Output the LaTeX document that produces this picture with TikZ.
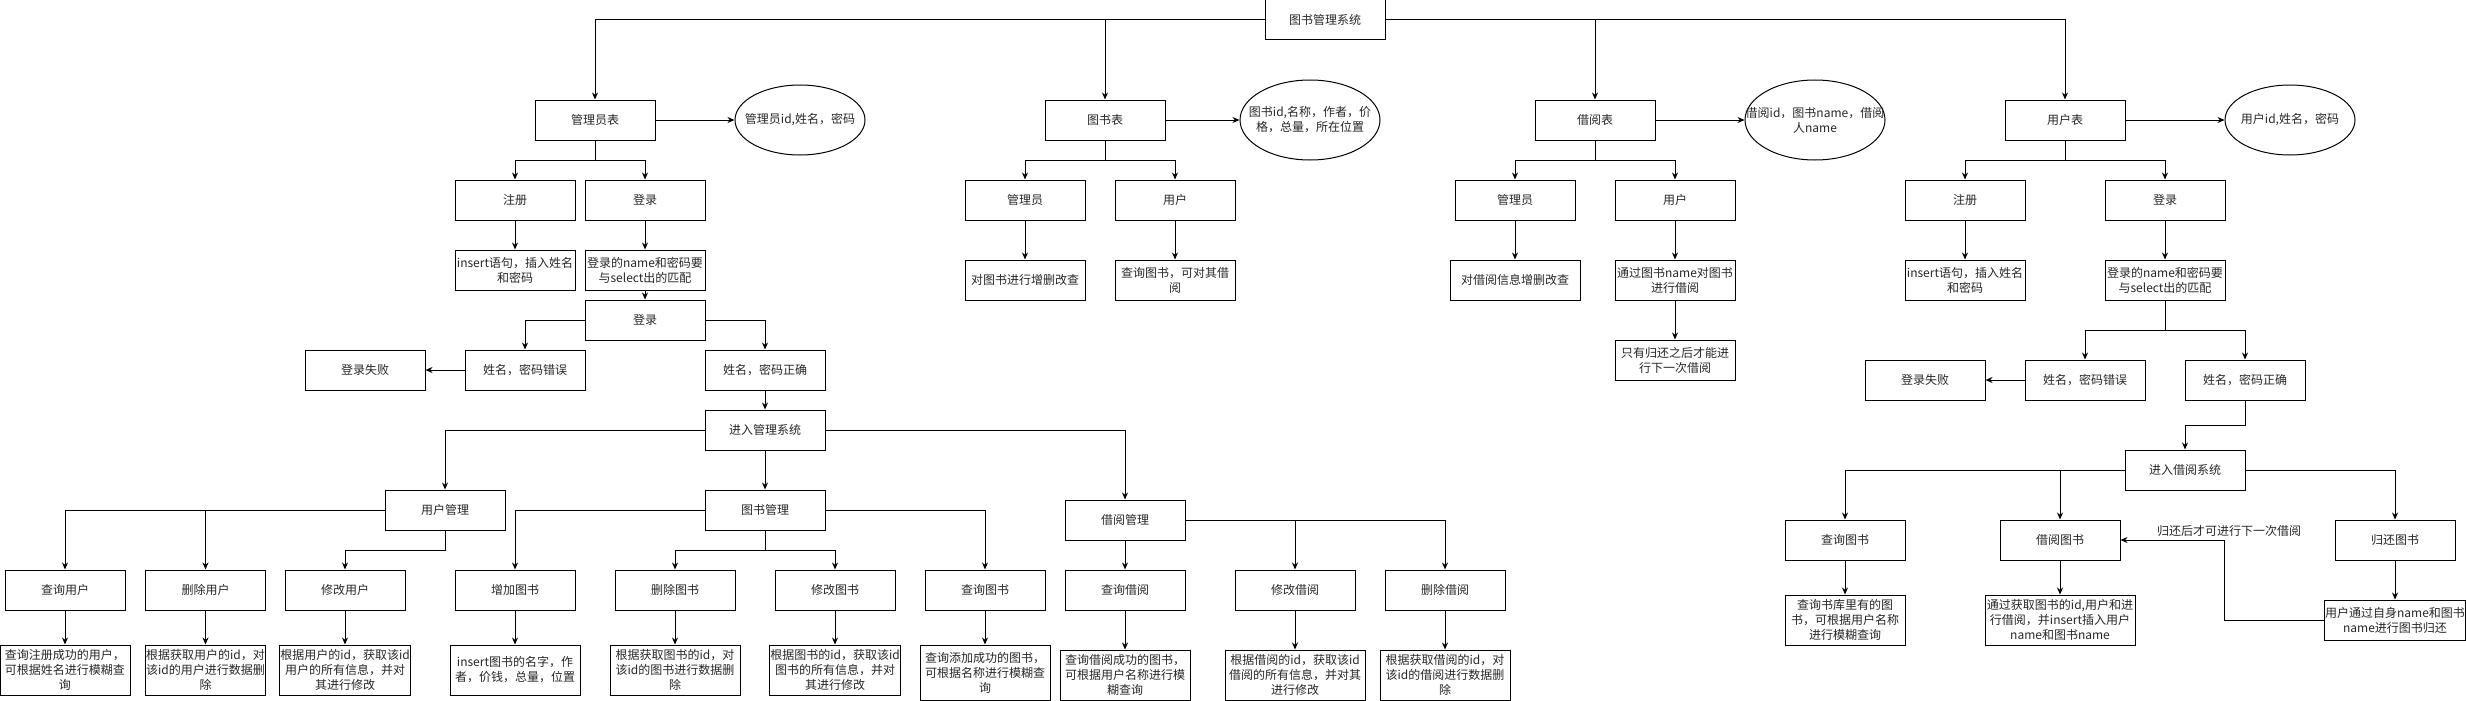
\documentclass[tikz,border=0pt]{standalone}
\usepackage{fontspec}
\setmainfont{Noto Sans CJK SC}
\usepackage{tikz}
\usetikzlibrary{arrows.meta}
\usetikzlibrary{shapes,positioning}
\colorlet{background}{white}
\colorlet{penColor}{black}
\colorlet{textColor}{black!85}

\begin{document}
\begin{tikzpicture}[x=1pt,y=-1pt,line width=1pt,
  >={Stealth[length=7pt,width=6pt]},
  box/.style={draw=penColor,rectangle,minimum width=120pt,minimum height=40pt,
    inner sep=0.5pt,align=center,text=textColor,font=\fontsize{12}{15}\selectfont},
  wbox/.style={box,minimum width=130pt,minimum height=50pt},
  attr/.style={draw=penColor,ellipse,minimum width=130pt,minimum height=70pt},
  link/.style={penColor,->}]

  \useasboundingbox (0,0) rectangle (2466,701);

  % top level
  \node [box] (root) at (1325,20) {图书管理系统};
  \node [box] (adminT) at (595,120) {管理员表};
  \node [box] (bookT) at (1105,120) {图书表};
  \node [box] (borrowT) at (1595,120) {借阅表};
  \node [box] (userT) at (2065,120) {用户表};

  \node [attr,label={[align=center,text=textColor,font=\fontsize{12}{15}\selectfont]center:{管理员id,姓名，密码}}] (adminE) at (800,120) {};
  \node [attr,minimum width=140pt,minimum height=80pt,label={[align=center,text=textColor,font=\fontsize{12}{15}\selectfont]center:{图书id,名称，作者，价\\格，总量，所在位置}}] (bookE) at (1310,120) {};
  \node [attr,minimum width=140pt,minimum height=80pt,label={[align=center,text=textColor,font=\fontsize{12}{15}\selectfont]center:{借阅id，图书name，借阅\\人name}}] (borrowE) at (1815,120) {};
  \node [attr,label={[align=center,text=textColor,font=\fontsize{12}{15}\selectfont]center:{用户id,姓名，密码}}] (userE) at (2290,120) {};

  \draw [link] (root) -| (adminT);
  \draw [link] (root) -| (bookT);
  \draw [link] (root) -| (borrowT);
  \draw [link] (root) -| (userT);
  \draw [link] (adminT) -- (adminE);
  \draw [link] (bookT) -- (bookE);
  \draw [link] (borrowT) -- (borrowE);
  \draw [link] (userT) -- (userE);

  % admin table
  \node [box] (aReg) at (515,200) {注册};
  \node [box] (aLog) at (645,200) {登录};
  \node [box] (aRegD) at (515,270) {insert语句，插入姓名\\和密码};
  \node [box] (aLogD) at (645,270) {登录的name和密码要\\与select出的匹配};
  \node [box] (aLogin) at (645,320) {登录};
  \node [box] (aWrong) at (525,370) {姓名，密码错误};
  \node [box] (aFail) at (365,370) {登录失败};
  \node [box] (aRight) at (765,370) {姓名，密码正确};
  \node [box] (aSys) at (765,430) {进入管理系统};

  \draw [link] (adminT.south) -- ++(0,20) -| (aReg);
  \draw [link] (adminT.south) -- ++(0,20) -| (aLog);
  \draw [link] (aReg) -- (aRegD);
  \draw [link] (aLog) -- (aLogD);
  \draw [link] (aLogD) -- (aLogin);
  \draw [link] (aLogin) -| (aWrong);
  \draw [link] (aLogin) -| (aRight);
  \draw [link] (aWrong) -- (aFail);
  \draw [link] (aRight) -- (aSys);

  \node [box] (uMgr) at (445,510) {用户管理};
  \node [box] (bMgr) at (765,510) {图书管理};
  \node [box] (rMgr) at (1125,520) {借阅管理};
  \draw [link] (aSys) -| (uMgr);
  \draw [link] (aSys) -- (bMgr);
  \draw [link] (aSys) -| (rMgr);

  \node [box] (uQ) at (65,590) {查询用户};
  \node [box] (uDel) at (205.5,590) {删除用户};
  \node [box] (uMod) at (345,590) {修改用户};
  \node [box] (bAdd) at (515,590) {增加图书};
  \node [box] (bDel) at (675,590) {删除图书};
  \node [box] (bMod) at (835,590) {修改图书};
  \node [box] (bQ) at (985,590) {查询图书};
  \node [box] (rQ) at (1125,590) {查询借阅};
  \node [box] (rMod) at (1295,590) {修改借阅};
  \node [box] (rDel) at (1445,590) {删除借阅};

  \node [wbox] (uQD) at (65,670) {查询注册成功的用户，\\可根据姓名进行模糊查\\询};
  \node [wbox,minimum width=120pt] (uDelD) at (205.5,670) {根据获取用户的id，对\\该id的用户进行数据删\\除};
  \node [wbox] (uModD) at (345,670) {根据用户的id，获取该id\\用户的所有信息，并对\\其进行修改};
  \node [wbox] (bAddD) at (515,670) {insert图书的名字，作\\者，价钱，总量，位置};
  \node [wbox] (bDelD) at (675,670) {根据获取图书的id，对\\该id的图书进行数据删\\除};
  \node [wbox] (bModD) at (835,670) {根据图书的id，获取该id\\图书的所有信息，并对\\其进行修改};
  \node [wbox,minimum height=55pt] (bQD) at (985,672.5) {查询添加成功的图书，\\可根据名称进行模糊查\\询};
  \node [wbox] (rQD) at (1125,675) {查询借阅成功的图书，\\可根据用户名称进行模\\糊查询};
  \node [wbox,minimum width=140pt] (rModD) at (1295,675) {根据借阅的id，获取该id\\借阅的所有信息，并对其\\进行修改};
  \node [wbox] (rDelD) at (1445,675) {根据获取借阅的id，对\\该id的借阅进行数据删\\除};

  \draw [link] (uMgr) -| (uQ);
  \draw [link] (uMgr) -| (uDel);
  \draw [link] (uMgr.south) -- ++(0,20) -| (uMod);
  \draw [link] (bMgr) -| (bAdd);
  \draw [link] (bMgr.south) -- ++(0,20) -| (bDel);
  \draw [link] (bMgr.south) -- ++(0,20) -| (bMod);
  \draw [link] (bMgr) -| (bQ);
  \draw [link] (rMgr) -- (rQ);
  \draw [link] (rMgr) -| (rMod);
  \draw [link] (rMgr) -| (rDel);

  \draw [link] (uQ) -- (uQD);
  \draw [link] (uDel) -- (uDelD);
  \draw [link] (uMod) -- (uModD);
  \draw [link] (bAdd) -- (bAddD);
  \draw [link] (bDel) -- (bDelD);
  \draw [link] (bMod) -- (bModD);
  \draw [link] (bQ) -- (bQD);
  \draw [link] (rQ) -- (rQD);
  \draw [link] (rMod) -- (rModD);
  \draw [link] (rDel) -- (rDelD);

  % book table
  \node [box] (bkAdm) at (1025,200) {管理员};
  \node [box] (bkUsr) at (1175,200) {用户};
  \node [box] (bkAdmD) at (1025,280) {对图书进行增删改查};
  \node [box] (bkUsrD) at (1175,280) {查询图书，可对其借\\阅};
  \draw [link] (bookT.south) -- ++(0,20) -| (bkAdm);
  \draw [link] (bookT.south) -- ++(0,20) -| (bkUsr);
  \draw [link] (bkAdm) -- (bkAdmD);
  \draw [link] (bkUsr) -- (bkUsrD);

  % borrow table
  \node [box] (brAdm) at (1515,200) {管理员};
  \node [box] (brUsr) at (1675,200) {用户};
  \node [box,minimum width=130pt] (brAdmD) at (1515,280) {对借阅信息增删改查};
  \node [box] (brUsrD) at (1675,280) {通过图书name对图书\\进行借阅};
  \node [box] (brOnce) at (1675,360) {只有归还之后才能进\\行下一次借阅};
  \draw [link] (borrowT.south) -- ++(0,20) -| (brAdm);
  \draw [link] (borrowT.south) -- ++(0,20) -| (brUsr);
  \draw [link] (brAdm) -- (brAdmD);
  \draw [link] (brUsr) -- (brUsrD);
  \draw [link] (brUsrD) -- (brOnce);

  % user table
  \node [box] (cReg) at (1965,200) {注册};
  \node [box] (cLog) at (2165,200) {登录};
  \node [box] (cRegD) at (1965,280) {insert语句，插入姓名\\和密码};
  \node [box] (cLogD) at (2165,280) {登录的name和密码要\\与select出的匹配};
  \node [box] (cWrong) at (2085,380) {姓名，密码错误};
  \node [box] (cFail) at (1925,380) {登录失败};
  \node [box] (cRight) at (2245,380) {姓名，密码正确};
  \node [box] (cSys) at (2185,470) {进入借阅系统};

  \draw [link] (userT.south) -- ++(0,20) -| (cReg);
  \draw [link] (userT.south) -- ++(0,20) -| (cLog);
  \draw [link] (cReg) -- (cRegD);
  \draw [link] (cLog) -- (cLogD);
  \draw [link] (cLogD.south) -- ++(0,30) -| (cWrong);
  \draw [link] (cLogD.south) -- ++(0,30) -| (cRight);
  \draw [link] (cWrong) -- (cFail);
  \draw [link] (cRight.south) -- ++(0,25) -| (cSys);

  \node [box] (cQ) at (1845,540) {查询图书};
  \node [box] (cBor) at (2060,540) {借阅图书};
  \node [box] (cRet) at (2395,540) {归还图书};
  \node [wbox,minimum width=120pt] (cQD) at (1845,620) {查询书库里有的图\\书，可根据用户名称\\进行模糊查询};
  \node [wbox,minimum width=150pt] (cBorD) at (2060,620) {通过获取图书的id,用户和进\\行借阅，并insert插入用户\\name和图书name};
  \node [box,minimum width=140pt] (cRetD) at (2395,620) {用户通过自身name和图书\\name进行图书归还};

  \draw [link] (cSys) -| (cQ);
  \draw [link] (cSys) -| (cBor);
  \draw [link] (cSys) -| (cRet);
  \draw [link] (cQ) -- (cQD);
  \draw [link] (cBor) -- (cBorD);
  \draw [link] (cRet) -- (cRetD);
  \draw [link] (cRetD.west) -- ++(-100,0) |- (cBor.east)
    node [pos=0.5,above,xshift=5pt,text=textColor,font=\fontsize{12}{15}\selectfont] (retNote) {归还后才可进行下一次借阅};

\end{tikzpicture}
\end{document}
